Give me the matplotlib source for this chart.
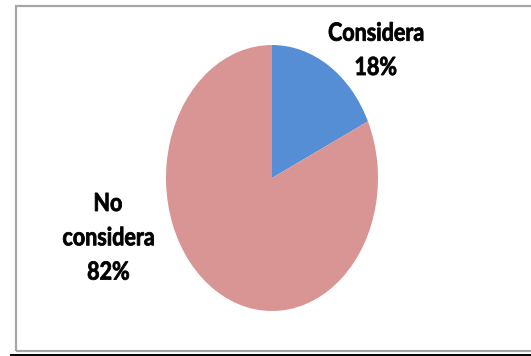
import matplotlib.pyplot as plt
from matplotlib.patches import Rectangle, PathPatch
from matplotlib.lines import Line2D
from matplotlib.textpath import TextPath
from matplotlib.font_manager import FontProperties
from matplotlib.transforms import Affine2D, IdentityTransform

# ---------------------------------------------------------- DATA ----------------------------------------------------------#
labels = ['Considera', 'No\nconsidera']
values = [18, 82]
colors = ['#558ED5', '#D99594']

W, H = 531, 356
fig = plt.figure(figsize=(W / 100, H / 100), dpi=100)

# chart frame (gray) and the black rule under it
fig.add_artist(Rectangle((16 / W, 1 - 351 / H), 530 / W, 345 / H, transform=fig.transFigure,
                         fill=False, edgecolor='#A6A6A6', linewidth=1.6))
fig.add_artist(Line2D([11 / W, 1], [1 - 354.5 / H] * 2, transform=fig.transFigure,
                      color='black', linewidth=1.4))

# pie axes, stretched vertically
ax = fig.add_axes([166 / W, 1 - 311 / H, 212 / W, 266 / H])
ax.pie(values, colors=colors, startangle=90, counterclock=False, radius=1,
       wedgeprops={'linewidth': 0})
ax.set_aspect('auto')
ax.set_xlim(-1, 1)
ax.set_ylim(-1, 1)
ax.axis('off')

# data labels drawn as paths so they can be squeezed horizontally like the pie
prop = FontProperties(family='Lato', weight='bold')
text_size = 25
squeeze = 0.86
line_step = 34.3


def draw_label(text, cx, first_baseline):
    # cx, first_baseline in pixels from the top-left corner
    for i, line in enumerate(text.split('\n')):
        tp = TextPath((0, 0), line, size=text_size, prop=prop)
        ext = tp.get_extents()
        mid = (ext.x0 + ext.x1) / 2
        base = first_baseline + i * line_step
        tr = Affine2D().translate(-mid, 0).scale(squeeze, 1).translate(cx, H - base)
        fig.add_artist(PathPatch(tr.transform_path(tp), transform=IdentityTransform(),
                                 facecolor='black', edgecolor='black', linewidth=0.6))


label_pos = [(376, 40.7), (108.4, 211)]
total = sum(values)
for lab, val, (px, py) in zip(labels, values, label_pos):
    draw_label('{}\n{:.0f}%'.format(lab, 100 * val / total), px, py)

fig.savefig('out.png', dpi=100)
